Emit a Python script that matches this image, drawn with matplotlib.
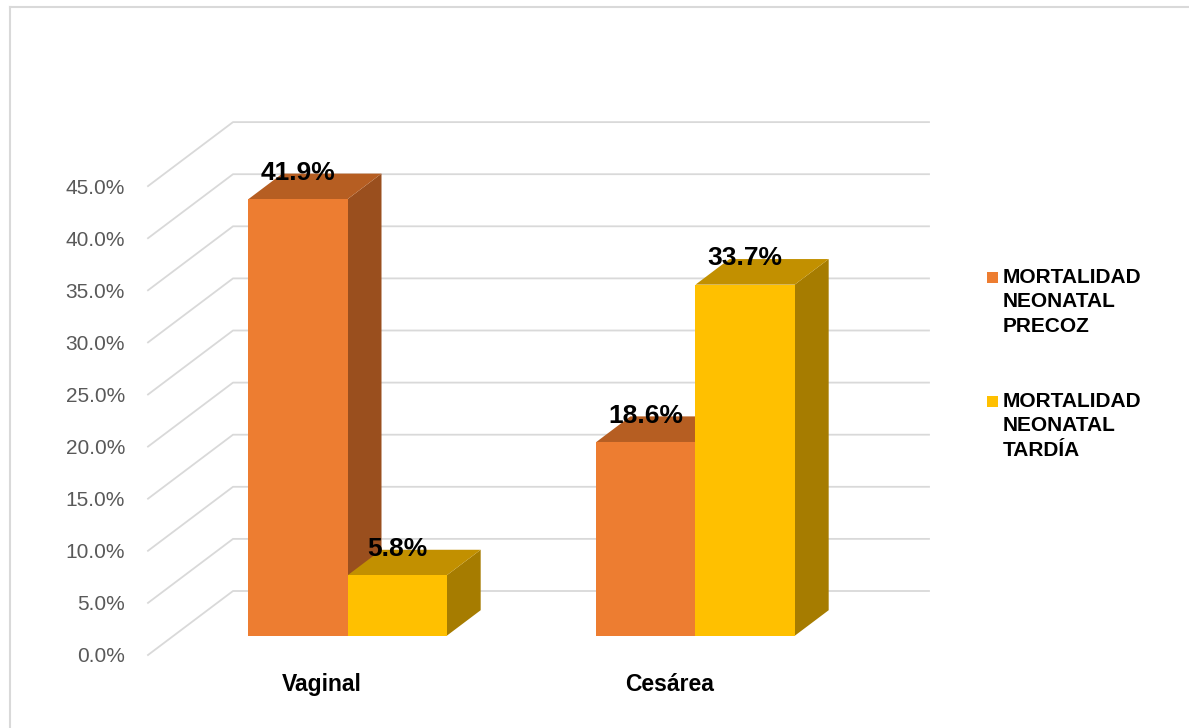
import numpy as np
import matplotlib
matplotlib.use("Agg")
import matplotlib.pyplot as plt
from matplotlib.patches import Polygon, Rectangle
from matplotlib.lines import Line2D

plt.rcParams['font.family'] = ['Liberation Sans', 'DejaVu Sans']

# data
categories = ["Vaginal", "Cesárea"]
series_names = ["MORTALIDAD\nNEONATAL\nPRECOZ", "MORTALIDAD\nNEONATAL\nTARDÍA"]
precoz = [41.9, 18.6]
tardia = [5.8, 33.7]
y_ticks = [0, 5, 10, 15, 20, 25, 30, 35, 40, 45]

values = [precoz, tardia]

# colours: front, top, side
front_cols = ["#ED7D31", "#FFC000"]
top_cols = ["#B65E22", "#C29000"]
side_cols = ["#9A4F1E", "#A67C00"]
grid_col = "#D9D9D9"

# fake 3d geometry (depth vector in data units)
DX = 85 / 348
DY = 64 / 10.42
F0, F1 = 0.30, 0.70   # bar front / back depth
W = 0.285             # bar width


def proj(x, y, z):
    return x + z * DX, y + z * DY


W_PX, H_PX = 1189, 728
fig = plt.figure(figsize=(W_PX / 100, H_PX / 100), dpi=100)
ymax = y_ticks[-1] + DY
xmax = len(categories) + DX
ax = fig.add_axes([148 / W_PX, 73 / H_PX, xmax * 348 / W_PX, ymax * 10.42 / H_PX])
ax.set_xlim(0, xmax)
ax.set_ylim(0, ymax)
for s in ax.spines.values():
    s.set_visible(False)

# walls
for t in y_ticks:
    p0 = proj(0, t, 0)
    p1 = proj(0, t, 1)
    p2 = proj(len(categories), t, 1)
    ax.plot([p0[0], p1[0], p2[0]], [p0[1], p1[1], p2[1]], color=grid_col,
            lw=1.3, zorder=1, clip_on=False)

ax.set_yticks(y_ticks)
ax.set_yticklabels([f"{t:.1f}%" for t in y_ticks], color="#595959", fontsize=15)
ax.tick_params(axis="y", length=0, pad=16.5)
centers = np.arange(len(categories)) + 0.5
ax.set_xticks(centers)
ax.set_xticklabels(categories, fontsize=16.5, fontweight="bold")
ax.tick_params(axis="x", length=0, pad=13)

# bars
z = 2
for i, c in enumerate(centers):
    for j, vals in enumerate(values):
        v = vals[i]
        x0 = c - W + j * W
        x1 = x0 + W
        side = [proj(x1, 0, F0), proj(x1, v, F0), proj(x1, v, F1), proj(x1, 0, F1)]
        top = [proj(x0, v, F0), proj(x1, v, F0), proj(x1, v, F1), proj(x0, v, F1)]
        ax.add_patch(Polygon(side, closed=True, facecolor=side_cols[j], edgecolor="none",
                             zorder=z, clip_on=False))
        ax.add_patch(Polygon(top, closed=True, facecolor=top_cols[j], edgecolor="none",
                             zorder=z, clip_on=False))
        fx, fy = proj(x0, 0, F0)
        ax.bar(fx, v, width=W, bottom=fy, align="edge", color=front_cols[j],
               zorder=z + 0.5, clip_on=False)
        lx, ly = proj(c - W / 2 + j * W, v, F0)
        ax.annotate(f"{v:.1f}%", xy=(lx, ly), xytext=(0, 19), textcoords="offset points",
                    ha="center", va="center", fontsize=19, fontweight="bold",
                    color="black", zorder=20, annotation_clip=False)
        z += 1

# legend
for k, name in enumerate(series_names):
    y_top = 268 + k * 124
    fig.patches.append(Rectangle((987 / W_PX, 1 - (y_top + 15) / H_PX), 11 / W_PX, 11 / H_PX,
                                 transform=fig.transFigure, facecolor=front_cols[k],
                                 edgecolor="none"))
    fig.text(1003 / W_PX, 1 - y_top / H_PX, name, fontsize=15, fontweight="bold",
             va="top", ha="left", linespacing=1.35)

# chart border
fig.add_artist(Line2D([10 / W_PX, 1], [1 - 7 / H_PX, 1 - 7 / H_PX], color=grid_col,
                      lw=1.5, transform=fig.transFigure))
fig.add_artist(Line2D([10 / W_PX, 10 / W_PX], [0, 1 - 7 / H_PX], color=grid_col,
                      lw=1.5, transform=fig.transFigure))

fig.savefig("out.png", dpi=100)
